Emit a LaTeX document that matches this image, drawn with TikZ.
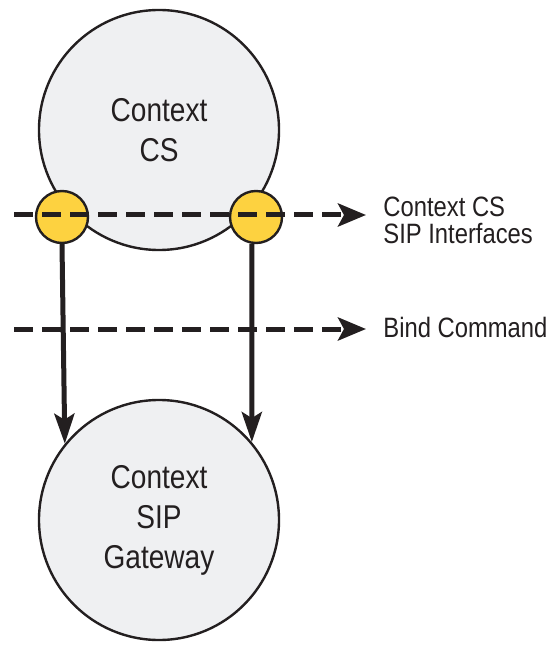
\documentclass[tikz,border=0pt]{standalone}
\usepackage{fontspec}
\setmainfont{Liberation Sans}[FakeStretch=0.85]
\usepackage{tikz}
\usetikzlibrary{arrows.meta, positioning}
\definecolor{cloud}{HTML}{EFF0F2}
\definecolor{port}{HTML}{FDD240}
\definecolor{ink}{HTML}{231F20}

\begin{document}
\begin{tikzpicture}[
      x=0.5pt, y=-0.5pt, >=Stealth,
      big/.style={circle, draw=ink, line width=1.2pt, fill=cloud, minimum size=120pt, align=center, font=\fontsize{16.5}{20}\selectfont, text=ink},
      iface/.style={circle, draw=ink, line width=1.2pt, fill=port, minimum size=26pt, inner sep=0pt},
      dline/.style={draw=ink, line width=2.5pt, dash pattern=on 9.5pt off 4.5pt, -{Stealth[length=14pt, width=11.5pt, inset=3pt]}},
      arr/.style={draw=ink, line width=2.5pt, -{Stealth[length=15pt, width=10pt, inset=3pt]}},
      lbl/.style={anchor=west, inner sep=0pt, align=left, font=\fontsize{14}{13.5}\selectfont, text=ink}
    ]
    \useasboundingbox (0,0) rectangle (552,646);
    % Nodes
    \node[big] (cs) at (159,130) {Context\\CS};
    \node[big] (gw) at (159,520) {Context\\SIP\\Gateway};
    \node[iface] (ifl) at (62,217) {};
    \node[iface] (ifr) at (256,217) {};
    \coordinate (sip0) at (14,215);
    \coordinate (sip1) at (366,215);
    \coordinate (bind0) at (14,329);
    \coordinate (bind1) at (366,329);
    \node[lbl] (siplbl) at (383,220) {Context CS\\SIP Interfaces};
    \node[lbl] (bindlbl) at (383,327) {Bind Command};

    % Connections
    \draw[dline] (sip0) -- (sip1);
    \draw[dline] (bind0) -- (bind1);
    \draw[arr] (ifl.south) -- (gw.141);
    \draw[arr] (ifr.-99) -- (gw.40);
  \end{tikzpicture}
\end{document}
